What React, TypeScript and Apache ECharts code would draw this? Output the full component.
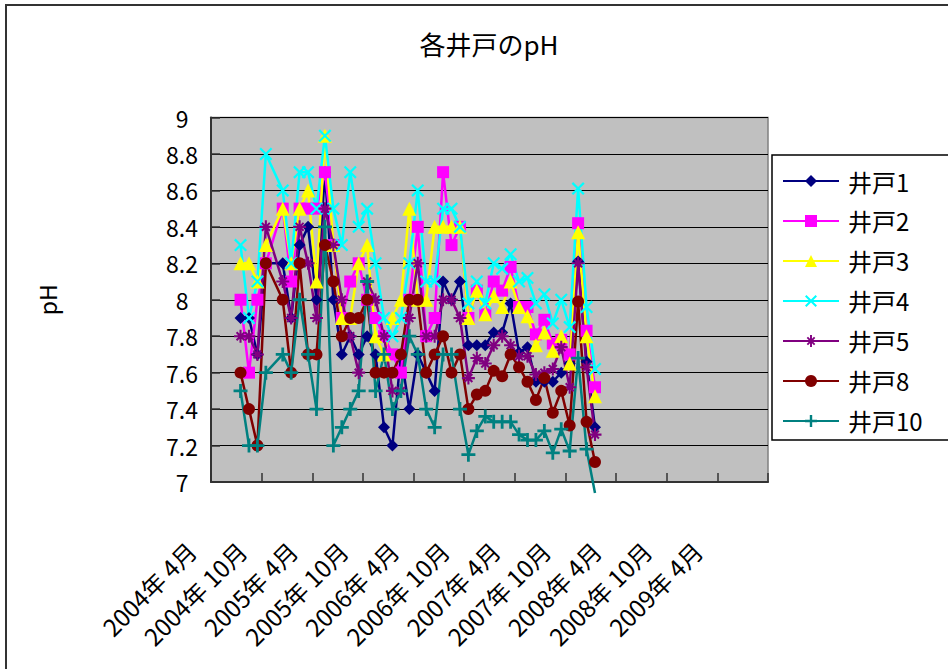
import React, { useEffect, useRef } from 'react';
import * as echarts from 'echarts';

const TITLE = '各井戸のpH';
const Y_NAME = 'pH';
const AXIS_START_YEAR = 2004;
const AXIS_START_MONTH = 4;
const AXIS_MONTHS = 66;
const LABEL_EVERY = 6;
const Y_MIN = 7;
const Y_MAX = 9;
const Y_STEP = 0.2;

const SAMPLE_MONTHS = [
  '2004/07', '2004/08', '2004/09', '2004/10', '2004/12',
  '2005/01', '2005/02', '2005/03', '2005/04', '2005/05', '2005/06',
  '2005/07', '2005/08', '2005/09', '2005/10', '2005/11', '2005/12',
  '2006/01', '2006/02', '2006/03', '2006/04', '2006/05', '2006/06',
  '2006/07', '2006/08', '2006/09', '2006/10', '2006/11', '2006/12',
  '2007/01', '2007/02', '2007/03', '2007/04', '2007/05', '2007/06',
  '2007/07', '2007/08', '2007/09', '2007/10', '2007/11', '2007/12',
  '2008/01',
];

const WELL_1 = [7.9, 7.9, 7.7, 8.2, 8.2, 7.9, 8.3, 8.4, 8.0, 8.7, 8.0, 7.7, 7.8, 7.7, 7.8, 7.7, 7.3, 7.2, 7.7, 7.4, 7.7, 7.6, 7.5, 8.1, 8.0, 8.1, 7.75, 7.75, 7.75, 7.82, 7.82, 7.98, 7.71, 7.74, 7.55, 7.55, 7.55, 7.6, 7.65, 8.21, 7.66, 7.3];
const WELL_2 = [8.0, 7.6, 8.0, 8.2, 8.5, 8.1, 8.5, 8.5, 8.5, 8.7, 8.3, 7.9, 8.1, 8.2, 8.0, 7.9, 7.8, 7.7, 7.6, 8.0, 8.4, 7.8, 7.9, 8.7, 8.3, 8.4, 7.9, 8.05, 7.92, 8.1, 8.05, 8.18, 7.96, 7.96, 7.81, 7.89, 7.76, 7.78, 7.7, 8.42, 7.83, 7.52];
const WELL_3 = [8.2, 8.2, 8.1, 8.3, 8.5, 8.2, 8.5, 8.6, 8.1, 8.9, 8.3, 7.9, 7.9, 8.2, 8.3, 7.8, 7.7, 7.9, 8.0, 8.5, 8.0, 8.0, 8.4, 8.4, 8.4, 8.4, 7.9, 8.05, 7.92, 8.02, 7.96, 8.1, 7.96, 7.91, 7.75, 7.82, 7.72, 7.8, 7.65, 8.37, 7.8, 7.47];
const WELL_4 = [8.3, 7.9, 8.1, 8.8, 8.6, 8.2, 8.7, 8.7, 8.5, 8.9, 8.5, 8.3, 8.7, 8.4, 8.5, 8.2, 7.9, 7.8, 7.9, 8.2, 8.6, 8.1, 8.1, 8.5, 8.5, 8.4, 7.98, 8.1, 7.98, 8.2, 8.17, 8.25, 8.1, 8.12, 7.98, 8.03, 7.87, 8.0, 7.85, 8.61, 7.96, 7.62];
const WELL_5 = [7.8, 7.8, 7.7, 8.4, 8.1, 7.9, 8.4, 8.2, 7.9, 8.5, 8.3, 8.0, 7.8, 7.6, 8.1, 8.0, 7.8, 7.5, 7.5, 7.9, 8.2, 7.8, 7.8, 8.0, 8.0, 7.9, 7.57, 7.68, 7.65, 7.75, 7.8, 7.75, 7.69, 7.69, 7.59, 7.6, 7.62, 7.74, 7.52, 8.2, 7.63, 7.26];
const WELL_8 = [7.6, 7.4, 7.2, 8.2, 8.0, 7.6, 8.2, 7.7, 7.7, 8.3, 8.1, 7.8, 7.9, 7.9, 8.0, 7.6, 7.6, 7.6, 7.7, 8.0, 8.0, 7.6, 7.7, 7.8, 7.6, 7.7, 7.4, 7.48, 7.5, 7.61, 7.58, 7.7, 7.63, 7.55, 7.45, 7.57, 7.38, 7.5, 7.31, 7.99, 7.33, 7.11];
const WELL_10 = [7.5, 7.2, 7.2, 7.6, 7.7, 7.6, 8.0, 7.7, 7.4, 8.4, 7.2, 7.3, 7.4, 7.5, 8.1, 7.5, 7.7, 7.4, 7.5, 7.8, 7.7, 7.4, 7.3, 7.7, 7.7, 7.4, 7.15, 7.28, 7.36, 7.33, 7.33, 7.33, 7.26, 7.23, 7.23, 7.28, 7.16, 7.29, 7.17, 7.68, 7.18, 6.94];

const SERIES_NAMES = ['井戸1', '井戸2', '井戸3', '井戸4', '井戸5', '井戸8', '井戸10'];
const SERIES_VALUES = [WELL_1, WELL_2, WELL_3, WELL_4, WELL_5, WELL_8, WELL_10];
const SERIES_COLORS = ['#000080', '#FF00FF', '#FFFF00', '#00FFFF', '#800080', '#800000', '#008080'];

const X_PATH = 'path://M1.2,0 L5,3.8 L8.8,0 L10,1.2 L6.2,5 L10,8.8 L8.8,10 L5,6.2 L1.2,10 L0,8.8 L3.8,5 L0,1.2 Z';
const PLUS_PATH = 'path://M4,0 L6,0 L6,4 L10,4 L10,6 L6,6 L6,10 L4,10 L4,6 L0,6 L0,4 L4,4 Z';
const STAR_PATH = 'path://M4.2,0 L5.8,0 L5.8,4.2 L10,4.2 L10,5.8 L5.8,5.8 L5.8,10 L4.2,10 L4.2,5.8 L0,5.8 L0,4.2 L4.2,4.2 Z M1.4,2.5 L2.5,1.4 L5,3.9 L7.5,1.4 L8.6,2.5 L6.1,5 L8.6,7.5 L7.5,8.6 L5,6.1 L2.5,8.6 L1.4,7.5 L3.9,5 Z';
const SYMBOLS = ['diamond', 'rect', 'triangle', X_PATH, STAR_PATH, 'circle', PLUS_PATH];
const SYMBOL_SIZES = [12, 12, 14, 13, 13, 12, 14];

const FONT = '"Noto Sans CJK JP", "Noto Sans", sans-serif';

function buildCategories(): string[] {
  const out: string[] = [];
  for (let k = 0; k < AXIS_MONTHS; k++) {
    const m0 = AXIS_START_MONTH - 1 + k;
    const y = AXIS_START_YEAR + Math.floor(m0 / 12);
    const m = (m0 % 12) + 1;
    out.push(`${y}年 ${m}月`);
  }
  return out;
}

function monthIndex(s: string): number {
  const [y, m] = s.split('/').map(Number);
  return (y - AXIS_START_YEAR) * 12 + (m - AXIS_START_MONTH);
}

function buildData(values: number[]) {
  const arr: any[] = new Array(AXIS_MONTHS).fill(null);
  SAMPLE_MONTHS.forEach((s, i) => {
    const v = values[i];
    arr[monthIndex(s)] = v < Y_MIN ? { value: v, symbol: 'none' } : v;
  });
  return arr;
}

export default function App() {
  const ref = useRef<HTMLDivElement>(null);
  useEffect(() => {
    if (!ref.current) return;
    const chart = echarts.init(ref.current, null, { renderer: 'svg' });
    const categories = buildCategories();
    const option: any = {
      animation: false,
      backgroundColor: '#ffffff',
      title: {
        text: TITLE,
        left: 484,
        top: 25,
        textAlign: 'center',
        textStyle: { fontFamily: FONT, fontSize: 26, fontWeight: 'normal', color: '#000' },
      },
      graphic: [
        {
          type: 'rect',
          z: 0,
          shape: { x: 6, y: 5, width: 980, height: 700 },
          style: { fill: 'none', stroke: '#333', lineWidth: 2 },
        },
        {
          type: 'rect',
          z: 1,
          shape: { x: 772, y: 155, width: 190, height: 285 },
          style: { fill: '#fff', stroke: '#000', lineWidth: 1.5 },
        },
      ],
      legend: {
        orient: 'vertical',
        left: 772,
        top: 155,
        z: 5,
        padding: [14, 10, 6, 10],
        itemGap: 16,
        itemWidth: 56,
        itemHeight: 15,
        data: SERIES_NAMES,
        textStyle: { fontFamily: FONT, fontSize: 24, color: '#000', padding: [0, 0, 0, 4] },
      },
      grid: {
        left: 211,
        right: 180,
        top: 117.5,
        bottom: 187,
        show: true,
        backgroundColor: '#C0C0C0',
        borderColor: '#808080',
        borderWidth: 1.5,
        containLabel: false,
        outerBoundsMode: 'none',
      },
      xAxis: {
        type: 'category',
        data: categories,
        boundaryGap: true,
        axisLine: { show: true, lineStyle: { color: '#333', width: 2 } },
        axisTick: { show: true, inside: true, length: 9, interval: LABEL_EVERY - 1, lineStyle: { color: '#333', width: 1.5 } },
        axisLabel: {
          interval: LABEL_EVERY - 1,
          rotate: 45,
          margin: 40,
          padding: [0, 34, 0, 0],
          fontFamily: FONT,
          fontSize: 24,
          color: '#000',
        },
        splitLine: { show: false },
      },
      yAxis: {
        type: 'value',
        min: Y_MIN,
        max: Y_MAX,
        interval: Y_STEP,
        name: Y_NAME,
        nameLocation: 'middle',
        nameGap: 153,
        nameRotate: 90,
        nameTextStyle: { fontFamily: FONT, fontSize: 23, color: '#000' },
        axisLine: { show: true, lineStyle: { color: '#333', width: 2 } },
        axisTick: { show: true, inside: true, length: 9, lineStyle: { color: '#333', width: 1.5 } },
        axisLabel: {
          align: 'center',
          margin: 29,
          fontFamily: FONT,
          fontSize: 23,
          color: '#000',
          formatter: (v: number) => String(+v.toFixed(1)),
        },
        splitLine: { show: true, lineStyle: { color: '#000', width: 1.2 } },
      },
      series: SERIES_NAMES.map((name, k) => ({
        name,
        type: 'line',
        data: buildData(SERIES_VALUES[k]),
        connectNulls: true,
        clip: false,
        symbol: SYMBOLS[k],
        symbolSize: SYMBOL_SIZES[k],
        showAllSymbol: true,
        lineStyle: { color: SERIES_COLORS[k], width: 2.5 },
        itemStyle: { color: SERIES_COLORS[k] },
        emphasis: { disabled: true },
      })),
    };
    chart.setOption(option);
    return () => chart.dispose();
  }, []);
  return (
    <div
      ref={ref}
      style={{ position: 'absolute', left: 0, top: 0, width: 948, height: 669 }}
    />
  );
}
